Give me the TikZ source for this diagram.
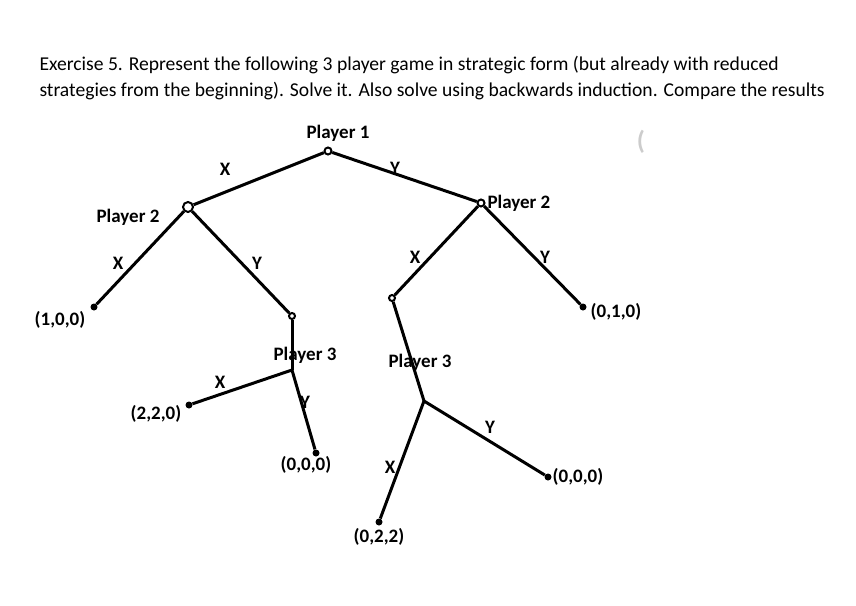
\documentclass[tikz,border=0pt]{standalone}
\usepackage{fontspec}
\setmainfont{Carlito}
\usetikzlibrary{calc}

\begin{document}
\begin{tikzpicture}[x=1pt,y=-1pt]
\tikzset{branch/.style={black,line width=3pt},
 dec/.style={circle,draw,line width=2pt,inner sep=0pt,minimum size=7pt,fill=white},
 leaf/.style={circle,fill=black,inner sep=0pt,minimum size=7pt},
 lab/.style={font=\bfseries\fontsize{19}{21}\selectfont}}
\useasboundingbox (0,0) rectangle (856,605);

\node (T1) at (36,70) [anchor=base west,font=\fontsize{19.6}{25}\selectfont] {Exercise 5. Represent the following 3 player game in strategic form (but already with reduced};
\node (T2) at (36,96) [anchor=base west,font=\fontsize{19.6}{25}\selectfont] {strategies from the beginning). Solve it. Also solve using backwards induction. Compare the results};
\node (G) at (641,142) [text=black!20,font=\bfseries\fontsize{26}{28}\selectfont] {(};

% decision nodes
\node[dec] (P1) at (328,151) {};
\node[dec,minimum size=10pt] (P2a) at (188,207) {};
\node[dec] (P2b) at (481,203) {};
\node[dec,minimum size=6pt] (N1) at (292,316) {};
\node[dec,minimum size=6pt] (N2) at (392,298) {};
\coordinate (J1) at (292,370);
\coordinate (J2) at (424,401);

% payoffs
\node[leaf] (A1) at (94,307) {};
\node[leaf] (A2) at (189,405) {};
\node[leaf] (A3) at (316,453) {};
\node[leaf] (A4) at (583,307) {};
\node[leaf] (A5) at (379,522) {};
\node[leaf] (A6) at (548,477) {};

\draw[branch] (P1)--(P2a);
\draw[branch] (P1)--(P2b);
\draw[branch] (P2a)--(A1);
\draw[branch] (P2a)--(N1);
\draw[branch] (N1)--(J1);
\draw[branch] (J1)--(A2);
\draw[branch] (J1)--(A3);
\draw[branch] (P2b)--(N2);
\draw[branch] (P2b)--(A4);
\draw[branch] (N2)--(J2);
\draw[branch] (J2)--(A5);
\draw[branch] (J2)--(A6);

\node[lab] (L1) at (338,133) {Player 1};
\node[lab] (X1) at (225,169) {X};
\node[lab] (Y1) at (395,168) {Y};
\node[lab] (L2a) at (128,217) {Player 2};
\node[lab,anchor=west] (L2b) at (484,203) {Player 2};
\node[lab] (X2a) at (118,263) {X};
\node[lab] (Y2a) at (257,263) {Y};
\node[lab] (X2b) at (415,257) {X};
\node[lab] (Y2b) at (545,257) {Y};
\node[lab] (V1) at (60,320) {(1,0,0)};
\node[lab] (V4) at (616,312) {(0,1,0)};
\node[lab] (L3a) at (305,355) {Player 3};
\node[lab] (X3a) at (220,382) {X};
\node[lab] (Y3a) at (305,402) {Y};
\node[lab] (V2) at (156,414) {(2,2,0)};
\node[lab] (V3) at (306,465) {(0,0,0)};
\node[lab] (L3b) at (420,362) {Player 3};
\node[lab] (X3b) at (390,467) {X};
\node[lab] (Y3b) at (490,427) {Y};
\node[lab] (V5) at (379,537) {(0,2,2)};
\node[lab] (V6) at (578,477) {(0,0,0)};

\end{tikzpicture}
\end{document}
